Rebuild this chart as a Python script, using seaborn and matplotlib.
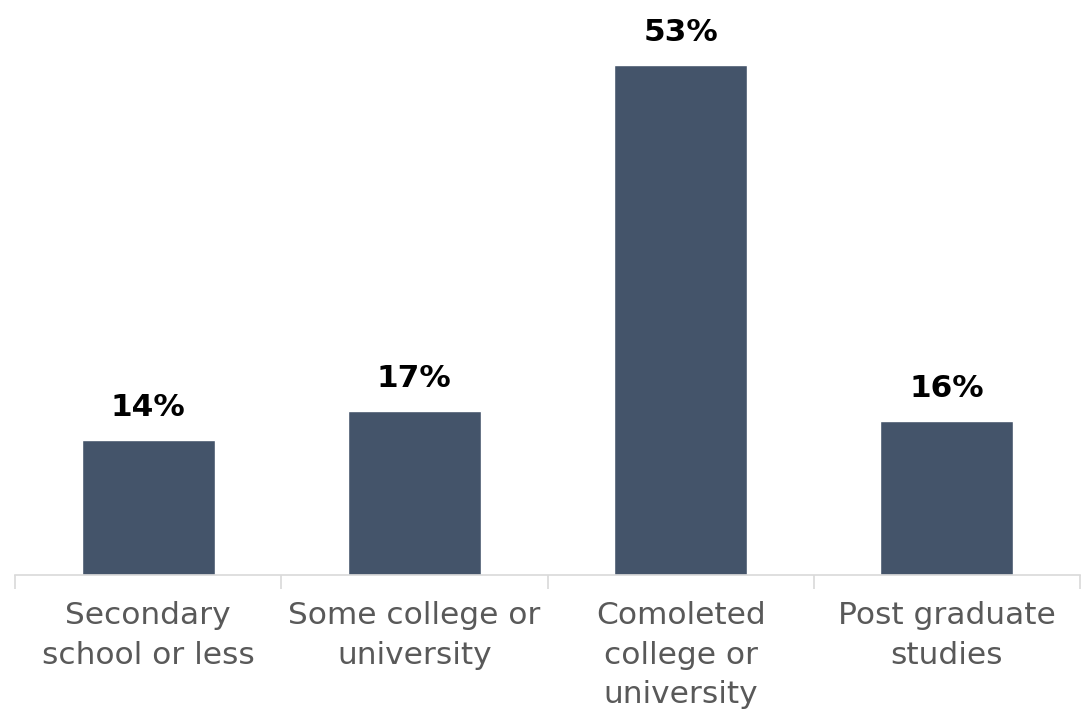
import seaborn as sns
import matplotlib.pyplot as plt
import pandas as pd

categories = ['Secondary\nschool or less', 'Some college or\nuniversity',
              'Comoleted\ncollege or\nuniversity', 'Post graduate\nstudies']
values = [14, 17, 53, 16]

dataset = pd.DataFrame({'category': categories, 'value': values})

sns.set_style('white')
plt.rcParams['font.family'] = ['DejaVu Sans']

fig = plt.figure(figsize=(10.89, 7.21), dpi=100)
ax1 = fig.add_axes([15/1089, 146/721, 1065/1089, 575/721])
sns.barplot(data=dataset, x='category', y='value', ax=ax1, color='#44546A',
            width=0.5, saturation=1)

ax1.set_ylim(0, 575/9.62)
ax1.set_xlim(-0.5, 3.5)
for s in ['top', 'right', 'left']:
    ax1.spines[s].set_visible(False)
ax1.spines['bottom'].set_color('#D9D9D9')
ax1.spines['bottom'].set_linewidth(1.2)
ax1.set_yticks([])
ax1.set_ylabel(None)
ax1.set_xlabel(None)

# tick marks sit between categories
ax1.set_xticks([-0.5, 0.5, 1.5, 2.5, 3.5], minor=True)
ax1.tick_params(axis='x', which='minor', length=10, color='#D9D9D9', width=1.2, bottom=True)
ax1.tick_params(axis='x', which='major', length=0, pad=19, labelsize=22.5, labelcolor='#595959')
for lbl in ax1.get_xticklabels():
    lbl.set_linespacing(1.45)

for i, v in enumerate(values):
    ax1.annotate(f'{v}%', (i, v), xytext=(0, 13), textcoords='offset points',
                 ha='center', va='bottom', fontsize=22.5, fontweight='bold', color='black')

fig.savefig('out.png', dpi=100)
